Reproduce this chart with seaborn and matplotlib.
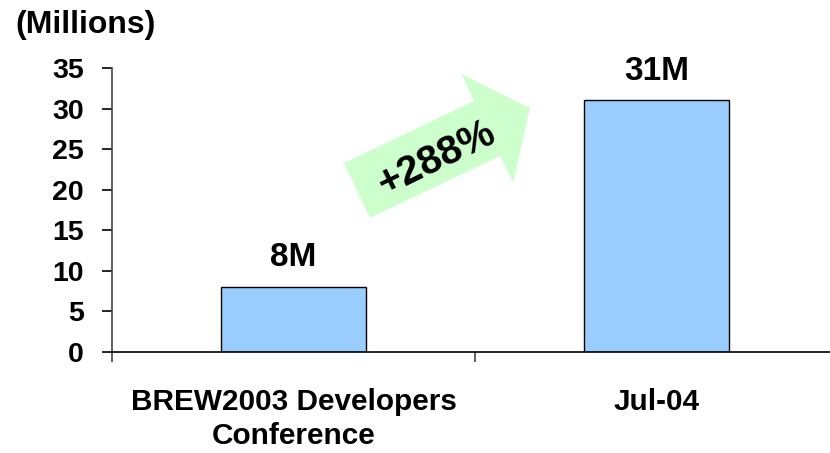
import matplotlib
matplotlib.use('Agg')
import matplotlib.pyplot as plt
import matplotlib.patches as mpatches
import seaborn as sns
import pandas as pd

# chart values
categories = ['BREW2003 Developers\nConference', 'Jul-04']
subscribers = [8, 31]
bar_labels = ['8M', '31M']
growth_label = '+288%'
y_ticks = [0, 5, 10, 15, 20, 25, 30, 35]

sns.set_style('white')
plt.rcParams['font.family'] = ['Liberation Sans', 'DejaVu Sans']
plt.rcParams['font.weight'] = 'bold'
plt.rcParams['text.color'] = 'black'
plt.rcParams['xtick.color'] = 'black'
plt.rcParams['ytick.color'] = 'black'

df = pd.DataFrame({'period': categories, 'subs': subscribers})

W, H = 830, 453
fig = plt.figure(figsize=(W / 100, H / 100), dpi=100)
ax = fig.add_axes([112 / W, 101 / H, 726 / W, 284 / H])

sns.barplot(data=df, x='period', y='subs', color='#99CCFF', saturation=1,
            edgecolor='black', linewidth=1, width=0.4, ax=ax)

ax.set_xlim(-0.5, 1.5)
ax.set_ylim(0, 35)
ax.set_yticks(y_ticks)
ax.set_xlabel('')
ax.set_ylabel('')

for side in ['top', 'right']:
    ax.spines[side].set_visible(False)
ax.spines['left'].set_color('#444444')
ax.spines['bottom'].set_color('black')
ax.spines['left'].set_linewidth(1.2)
ax.spines['bottom'].set_linewidth(1.2)

# category boundaries as minor ticks
ax.set_xticks([-0.5, 0.5, 1.5], minor=True)
ax.tick_params(axis='x', which='major', length=0, labelsize=21.4, pad=26)
ax.tick_params(axis='x', which='minor', bottom=True, length=7.2, width=1.2,
               direction='out', color='#444444')
ax.tick_params(axis='y', left=True, length=7.2, width=1.2, direction='out',
               labelsize=20.5, pad=13, color='black')
for lab in ax.get_xticklabels():
    lab.set_linespacing(1.25)
    lab.set_fontweight('bold')
for lab in ax.get_yticklabels():
    lab.set_fontweight('bold')

ax.bar_label(ax.containers[0], labels=bar_labels, padding=10, fontsize=24,
             fontweight='bold')

fig.text(15 / W, 1 - 33 / H, '(Millions)', fontsize=23, fontweight='bold',
         ha='left', va='baseline')

# growth arrow (in inches)
arrow = mpatches.FancyArrow(3.57, 2.625, 1.73, 0.825, width=0.608,
                            head_width=1.203, head_length=0.474,
                            length_includes_head=True, color='#CCFFCC',
                            linewidth=0, transform=fig.dpi_scale_trans)
fig.patches.append(arrow)
fig.text(4.36, (H - 158) / 100, growth_label, transform=fig.dpi_scale_trans,
         fontsize=29, fontweight='bold', rotation=26, rotation_mode='anchor',
         ha='center', va='center')

fig.savefig('out.png', dpi=100)
